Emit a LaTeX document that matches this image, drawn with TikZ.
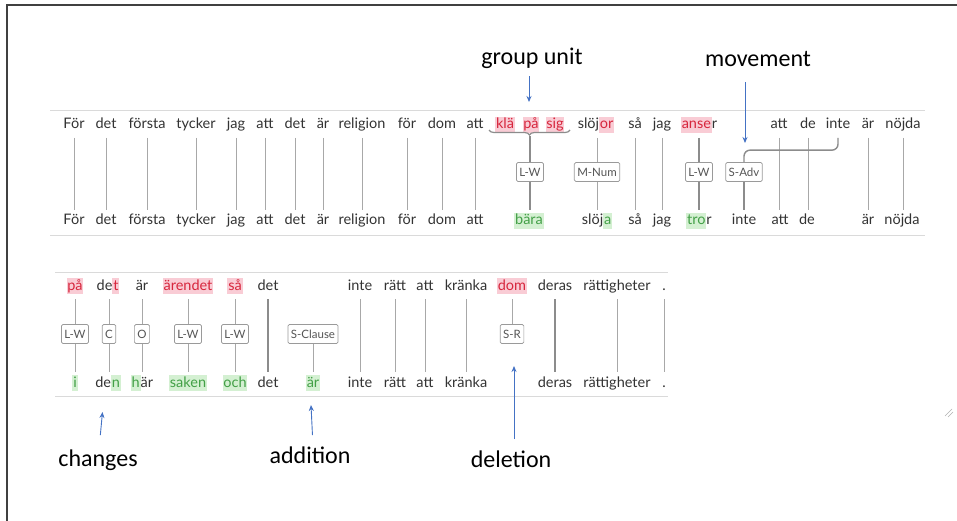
\documentclass[tikz,border=0pt]{standalone}
\usepackage{fontspec}
\setmainfont{Lato}
\newfontfamily\notefont{Carlito}
\usetikzlibrary{decorations.pathreplacing,arrows.meta}

\definecolor{wordc}{HTML}{333333}
\definecolor{delfg}{HTML}{D7263D}
\definecolor{delbg}{HTML}{F9CCD5}
\definecolor{insfg}{HTML}{43A047}
\definecolor{insbg}{HTML}{D4F0D2}
\definecolor{linec}{HTML}{A8A8A8}
\definecolor{heavyc}{HTML}{8C8C8C}
\definecolor{sepc}{HTML}{DADADA}
\definecolor{boxc}{HTML}{9A9A9A}
\definecolor{labc}{HTML}{555555}
\definecolor{arrc}{HTML}{4472C4}
\definecolor{framec}{HTML}{404040}

% highlighted (deleted / inserted) letters
\newcommand\hlstrut{\rule[-0.22em]{0pt}{0.98em}}
\newcommand\delw[1]{{\setlength\fboxsep{0.8pt}\colorbox{delbg}{\hlstrut\textcolor{delfg}{#1}}}}
\newcommand\insw[1]{{\setlength\fboxsep{0.8pt}\colorbox{insbg}{\hlstrut\textcolor{insfg}{#1}}}}

\begin{document}
\begin{tikzpicture}[x=1pt,y=-1pt,
  wd/.style={font=\fontsize{14.5}{17}\selectfont, text=wordc, inner sep=0pt,
             outer ysep=6pt, text height=9pt, text depth=3pt, anchor=base},
  lab/.style={draw=boxc, fill=white, rounded corners=1.5pt, line width=0.7pt,
              font=\fontsize{11.5}{13}\selectfont, text=labc,
              inner xsep=3pt, inner ysep=0pt, minimum height=19pt},
  link/.style={draw=linec, line width=0.9pt},
  heavy/.style={draw=heavyc, line width=1.4pt},
  sep/.style={draw=sepc, line width=0.9pt},
  note/.style={font=\notefont\fontsize{24}{28}\selectfont, inner sep=0pt, anchor=base},
  arr/.style={draw=arrc, line width=0.9pt, -{Stealth[length=6pt,width=5pt]}},
]
\useasboundingbox (0,0) rectangle (957,521);
\fill[white] (0,0) rectangle (957,521);
\draw[framec, line width=1.6pt] (7,521) -- (7,5) -- (957,5);

% ---------- first sentence ----------
\draw[sep] (50,110) -- (925,110);
\draw[sep] (50,235) -- (925,235);

\foreach \n/\x/\w in {t1/74/För, t2/106/det, t3/147/första, t4/196/tycker,
    t5/236/jag, t6/265/att, t7/295/det, t8/323/är, t9/362/religion,
    t10/407/för, t11/442/dom, t12/475/att, t13/505/{\delw{klä}},
    t14/531/{\delw{på}}, t15/555/{\delw{sig}}, t16/596/{slöj\delw{or}},
    t17/635/så, t18/662/jag, t19/699/{\delw{anse}r}, t20/779/att,
    t21/808/de, t22/838/inte, t23/868/är, t24/903/nöjda}
  \node[wd] (\n) at (\x,129) {\w};

\foreach \n/\x/\w in {b1/74/För, b2/106/det, b3/147/första, b4/196/tycker,
    b5/236/jag, b6/265/att, b7/295/det, b8/323/är, b9/362/religion,
    b10/407/för, b11/442/dom, b12/475/att, b13/529/{\insw{bära}},
    b14/597/{slöj\insw{a}}, b15/635/så, b16/662/jag, b17/699/{\insw{tro}r},
    b18/744/inte, b19/780/att, b20/807/de, b21/868/är, b22/902/nöjda}
  \node[wd] (\n) at (\x,225) {\w};

\node[lab] (lw1)  at (530,172) {L-W};
\node[lab] (mnum) at (597,172) {M-Num};
\node[lab] (lw2)  at (699,172) {L-W};
\node[lab] (sadv) at (744,172) {S-Adv};

\foreach \a/\b in {t1/b1, t2/b2, t3/b3, t4/b4, t5/b5, t6/b6, t7/b7, t8/b8,
    t9/b9, t10/b10, t11/b11, t12/b12, t17/b15, t18/b16, t20/b19, t21/b20,
    t23/b21, t24/b22}
  \draw[link] (\a.south) -- (\a.south |- \b.north);

% group unit "klä på sig" -> "bära"
\coordinate (brL) at (489,130);
\coordinate (brR) at (570,130);
\coordinate (brT) at (530,136);
\draw[heavy, line width=1.2pt, decorate, decoration={brace, mirror, amplitude=5pt}] (brL) -- (brR);
\draw[heavy] (brT) -- (lw1.north);
\draw[heavy] (lw1.south) -- (lw1.south |- b13.north);

\draw[link] (mnum.north |- t16.south) -- (mnum.north);
\draw[link] (mnum.south) -- (mnum.south |- b14.north);
\draw[heavy] (lw2.north |- t19.south) -- (lw2.north);
\draw[heavy] (lw2.south) -- (lw2.south |- b17.north);
\draw[heavy, rounded corners=6pt] (t22.south) |- ([yshift=12pt]sadv.north) -- (sadv.north);
\draw[heavy] (sadv.south) -- (sadv.south |- b18.north);

% ---------- second sentence ----------
\draw[sep] (55,272) -- (668,272);
\draw[sep] (55,396) -- (668,396);

\foreach \n/\x/\w in {u1/75/{\delw{på}}, u2/108/{de\delw{t}}, u3/142/är,
    u4/188/{\delw{ärendet}}, u5/235/{\delw{så}}, u6/268/det, u7/360/inte,
    u8/395/rätt, u9/425/att, u10/466/kränka, u11/512/{\delw{dom}},
    u12/555/deras, u13/617/rättigheter, u14/664/.}
  \node[wd] (\n) at (\x,290) {\w};

\foreach \n/\x/\w in {v1/75/{\insw{i}}, v2/108/{de\insw{n}}, v3/142/{\insw{h}är},
    v4/188/{\insw{saken}}, v5/235/{\insw{och}}, v6/268/det, v7/313/{\insw{är}},
    v8/360/inte, v9/395/rätt, v10/425/att, v11/466/kränka, v12/555/deras,
    v13/617/rättigheter, v14/664/.}
  \node[wd] (\n) at (\x,387) {\w};

\node[lab] (lw3)  at (75,334)  {L-W};
\node[lab] (chc)  at (109,334) {C};
\node[lab] (cho)  at (142,334) {O};
\node[lab] (lw4)  at (188,334) {L-W};
\node[lab] (lw5)  at (235,334) {L-W};
\node[lab] (scl)  at (313,334) {S-Clause};
\node[lab] (sr)   at (512,334) {S-R};

\foreach \a/\m/\b in {u1/lw3/v1, u2/chc/v2, u3/cho/v3, u4/lw4/v4, u5/lw5/v5}{
  \draw[link] (\m.north |- \a.south) -- (\m.north);
  \draw[link] (\m.south) -- (\m.south |- \b.north);
}
\draw[heavy] (u6.south) -- (u6.south |- v6.north);
\draw[link] (scl.south) -- (scl.south |- v7.north);
\foreach \a/\b in {u7/v8, u8/v9, u9/v10, u10/v11, u13/v13, u14/v14}
  \draw[link] (\a.south) -- (\a.south |- \b.north);
\draw[heavy] (u12.south) -- (u12.south |- v12.north);
\draw[link] (sr.north |- u11.south) -- (sr.north);

% ---------- annotations ----------
\node[note] (gu)   at (532,65)  {group unit};
\node[note] (mv)   at (758,67)  {movement};
\node[note] (chg)  at (98,466)  {changes};
\node[note] (add)  at (310,463) {addition};
\node[note] (dele) at (511,467) {deletion};

\coordinate (guT)  at (529,102);
\coordinate (mvT)  at (745,143);
\coordinate (chgT) at (102.5,412);
\coordinate (addT) at (311,405);
\coordinate (delT) at (514,366);

\draw[arr, shorten <=7pt]  (guT |- gu.south) -- (guT);
\draw[arr, shorten <=15pt] (mvT |- mv.south) -- (mvT);
\draw[arr, shorten <=14pt] ([xshift=1pt]chg.north) -- (chgT);
\draw[arr, shorten <=11pt] ([xshift=3pt]add.north) -- (addT);
\draw[arr, shorten <=11pt] ([xshift=3pt]dele.north) -- (delT);

% window resize grip
\draw[gray!60, line width=0.6pt] (945,416) -- (952,409) (948,417) -- (953,412);
\end{tikzpicture}
\end{document}
